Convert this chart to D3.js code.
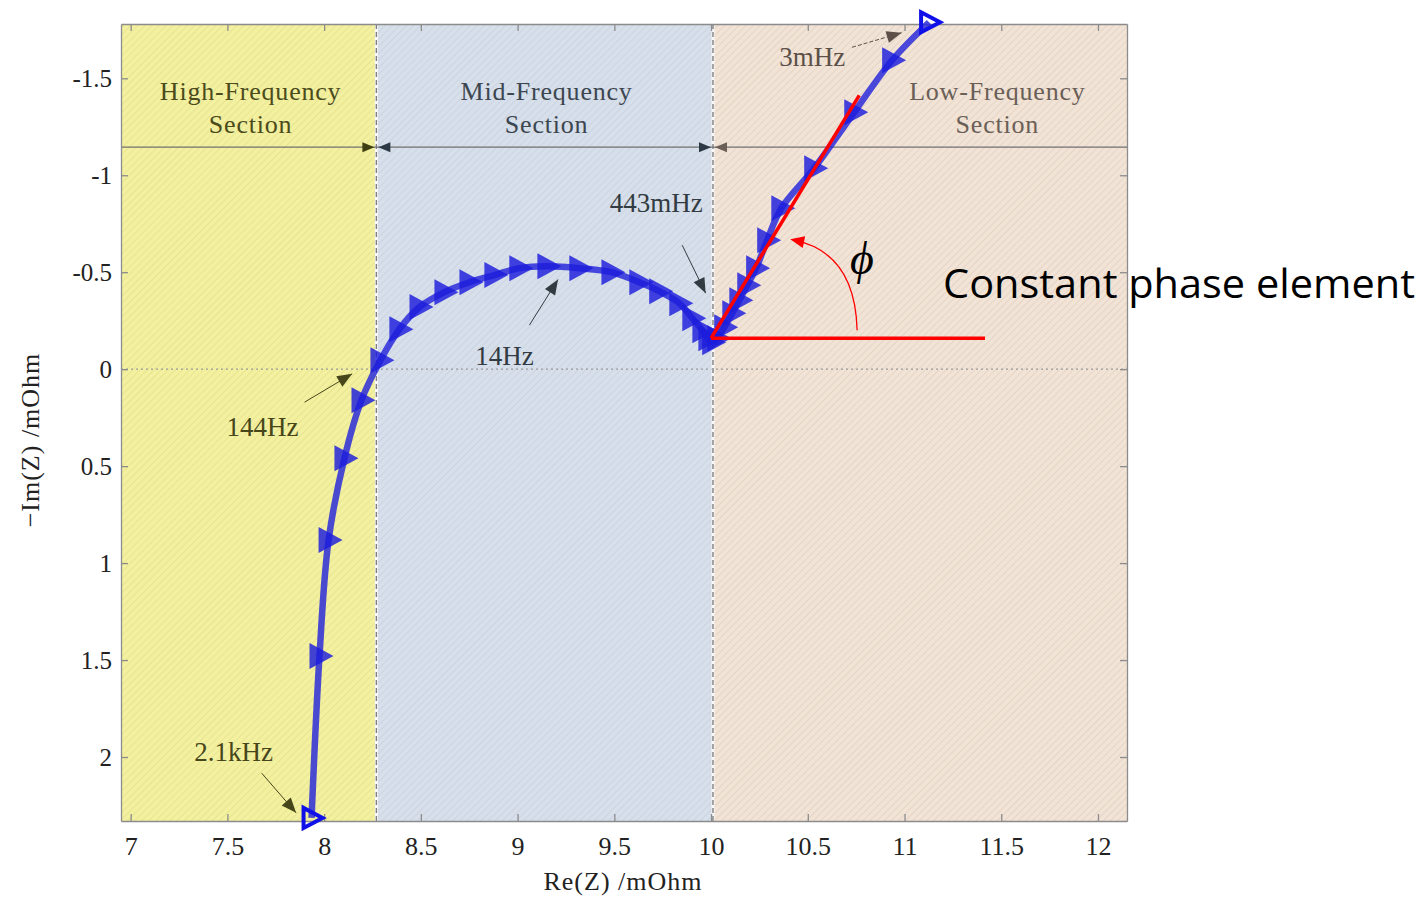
<!DOCTYPE html>
<html>
<head>
<meta charset="utf-8">
<script src="https://cdn.jsdelivr.net/npm/d3@7"></script>
<style>
body { margin: 0; background: #fff; }
.axis text { font-family: "Liberation Serif", serif; fill: #222; }
.axis path, .axis line { stroke: #8c8c8c; stroke-width: 1.3; }
.serif { font-family: "Liberation Serif", serif; }
</style>
</head>
<body>
<div id="chart"></div>
<script>
// impedance spectrum (Re(Z), plotted -Im(Z) axis value)
var reZ = [7.935, 7.976, 8.023, 8.105, 8.193, 8.291, 8.389, 8.493, 8.622, 8.751, 8.880, 9.009,
           9.154, 9.319, 9.485, 9.629, 9.732, 9.836, 9.903, 9.955, 9.986, 10.006, 10.032, 10.068,
           10.110, 10.146, 10.187, 10.233, 10.290, 10.363, 10.533, 10.740, 10.936, 11.127];
var imZ = [2.314, 1.479, 0.881, 0.459, 0.160, -0.046, -0.206, -0.320, -0.397, -0.448, -0.485, -0.521,
           -0.531, -0.521, -0.500, -0.448, -0.402, -0.340, -0.263, -0.201, -0.160, -0.139, -0.160, -0.216,
           -0.289, -0.356, -0.433, -0.521, -0.665, -0.830, -1.036, -1.325, -1.593, -1.789];

var xTicks = [7, 7.5, 8, 8.5, 9, 9.5, 10, 10.5, 11, 11.5, 12];
var yTicks = [-1.5, -1, -0.5, 0, 0.5, 1, 1.5, 2];

var sectionBounds = [6.95, 8.27, 10.01, 12.15];
var sectionNames = [["High-Frequency", "Section"], ["Mid-Frequency", "Section"], ["Low-Frequency", "Section"]];
var sectionLabelX = [7.62, 9.15, 11.48];
var sectionY = -1.145;

// frequency labels: text position, arrow start, arrow end (data units)
var freqLabels = ["3mHz", "443mHz", "14Hz", "144Hz", "2.1kHz"];
var freqText = [[10.523, -1.608], [9.717, -0.856], [8.932, -0.067], [7.682, 0.299], [7.532, 1.974]];
var freqFrom = [[10.729, -1.660], [9.851, -0.639], [9.061, -0.227], [7.899, 0.170], [7.677, 2.083]];
var freqTo = [[10.985, -1.735], [9.972, -0.392], [9.209, -0.462], [8.145, 0.024], [7.855, 2.288]];

// constant phase element construction
var cpeOrigin = [10.0, -0.16];
var cpeTangentEnd = [10.766, -1.412];
var cpeBaseEnd = [11.416, -0.16];
var cpeArc = [[10.755, -0.201], [10.745, -0.60], [10.43, -0.665]];

function init() {
    var w = 1424;
    var h = 898;
    var left = 121, right = 1127, top = 24, bottom = 821;

    var bg = ["#f3f0a0", "#d6dfea", "#f1e3d6"];
    var hatch = ["#e3df8a", "#c6d0de", "#e2d0c0"];
    var labelCol = ["#4b4b1c", "#3c4650", "#6a5f57"];

    var svg = d3.select("#chart").append("svg")
        .attr("width", w)
        .attr("height", h);

    var xScale = d3.scaleLinear().domain([6.95, 12.15]).range([left, right]);
    var yScale = d3.scaleLinear().domain([-1.78, 2.33]).range([top, bottom]);

    //hatched backgrounds
    var defs = svg.append("defs");
    bg.forEach(function(c, i) {
        var p = defs.append("pattern")
            .attr("id", "hatch" + i)
            .attr("patternUnits", "userSpaceOnUse")
            .attr("width", 5).attr("height", 5)
            .attr("patternTransform", "rotate(45)");
        p.append("rect").attr("width", 5).attr("height", 5).attr("fill", c);
        p.append("line").attr("x1", 0).attr("y1", 0).attr("x2", 0).attr("y2", 5)
            .attr("stroke", hatch[i]).attr("stroke-width", 1.4);
    });

    for (var i = 0; i < 3; i++) {
        svg.append("rect")
            .attr("x", xScale(sectionBounds[i]))
            .attr("y", top)
            .attr("width", xScale(sectionBounds[i + 1]) - xScale(sectionBounds[i]))
            .attr("height", bottom - top)
            .attr("fill", "url(#hatch" + i + ")");
    }

    //zero line
    svg.append("line")
        .attr("x1", left).attr("x2", right)
        .attr("y1", yScale(0)).attr("y2", yScale(0))
        .attr("stroke", "#9a9a9a").attr("stroke-width", 1.2)
        .attr("stroke-dasharray", "2,3");

    //section boundaries
    [sectionBounds[1], sectionBounds[2]].forEach(function(b) {
        svg.append("line")
            .attr("x1", xScale(b)).attr("x2", xScale(b))
            .attr("y1", top).attr("y2", bottom)
            .attr("stroke", "#f8f8f8").attr("stroke-width", 3);
        svg.append("line")
            .attr("x1", xScale(b)).attr("x2", xScale(b))
            .attr("y1", top).attr("y2", bottom)
            .attr("stroke", "#808080").attr("stroke-width", 1.4)
            .attr("stroke-dasharray", "5,3");
    });

    //section arrow line
    svg.append("line")
        .attr("x1", left).attr("x2", right)
        .attr("y1", yScale(sectionY)).attr("y2", yScale(sectionY))
        .attr("stroke", "#707070").attr("stroke-width", 1.2);

    function head(x, y, ang, len, wid, col) {
        var dx = Math.cos(ang), dy = Math.sin(ang);
        var bx = x - dx * len, by = y - dy * len;
        svg.append("path")
            .attr("d", "M" + x + "," + y +
                "L" + (bx - dy * wid) + "," + (by + dx * wid) +
                "L" + (bx + dy * wid) + "," + (by - dx * wid) + "Z")
            .attr("fill", col);
    }
    var sy = yScale(sectionY);
    head(xScale(sectionBounds[1]) - 2, sy, 0, 12, 5, "#3e3e12");
    head(xScale(sectionBounds[1]) + 2, sy, Math.PI, 12, 5, "#2c3844");
    head(xScale(sectionBounds[2]) - 2, sy, 0, 12, 5, "#2c3844");
    head(xScale(sectionBounds[2]) + 2, sy, Math.PI, 12, 5, "#6a6058");

    //section labels
    sectionNames.forEach(function(lines, i) {
        var cx = xScale(sectionLabelX[i]);
        var t = svg.append("text")
            .attr("class", "serif")
            .attr("text-anchor", "middle")
            .attr("font-size", 26)
            .attr("letter-spacing", 0.8)
            .attr("fill", labelCol[i]);
        t.append("tspan").attr("x", cx).attr("y", 100).text(lines[0]);
        t.append("tspan").attr("x", cx).attr("y", 133).text(lines[1]);
    });

    //axes
    var xAxis = d3.axisBottom(xScale).tickValues(xTicks).tickSize(-7).tickSizeOuter(0)
        .tickFormat(function(d) { return String(d); });
    var yAxis = d3.axisLeft(yScale).tickValues(yTicks).tickSize(-7).tickSizeOuter(0).tickPadding(9)
        .tickFormat(function(d) { return String(d); });

    var gx = svg.append("g").attr("class", "axis")
        .attr("transform", "translate(0," + bottom + ")").call(xAxis);
    gx.selectAll(".tick text").attr("y", 34).attr("dy", null).attr("font-size", 26);
    svg.append("g").attr("class", "axis")
        .attr("transform", "translate(0," + top + ")")
        .call(d3.axisTop(xScale).tickValues(xTicks).tickSize(-7).tickSizeOuter(0).tickFormat(""));
    var gy = svg.append("g").attr("class", "axis")
        .attr("transform", "translate(" + left + ",0)").call(yAxis);
    gy.selectAll(".tick text").attr("font-size", 25).attr("dy", "0.33em");
    svg.append("g").attr("class", "axis")
        .attr("transform", "translate(" + right + ",0)")
        .call(d3.axisRight(yScale).tickValues(yTicks).tickSize(-7).tickSizeOuter(0).tickFormat(""));

    //axis titles
    svg.append("text").attr("class", "serif")
        .attr("x", 623).attr("y", 890)
        .attr("text-anchor", "middle").attr("font-size", 26).attr("letter-spacing", 1)
        .attr("fill", "#222")
        .text("Re(Z) /mOhm");
    svg.append("text").attr("class", "serif")
        .attr("transform", "translate(39,440) rotate(-90)")
        .attr("text-anchor", "middle").attr("font-size", 26).attr("letter-spacing", 1)
        .attr("fill", "#222")
        .text("\u2212Im(Z) /mOhm");

    //frequency annotations
    var annCol = ["#5c5048", "#333b42", "#333b42", "#46461a", "#46461a"];
    freqLabels.forEach(function(lab, i) {
        svg.append("text").attr("class", "serif")
            .attr("x", xScale(freqText[i][0])).attr("y", yScale(freqText[i][1]) + 9)
            .attr("text-anchor", "middle").attr("font-size", 27)
            .attr("fill", annCol[i])
            .text(lab);
        var x0 = xScale(freqFrom[i][0]), y0 = yScale(freqFrom[i][1]);
        var x1 = xScale(freqTo[i][0]), y1 = yScale(freqTo[i][1]);
        svg.append("line")
            .attr("x1", x0).attr("y1", y0).attr("x2", x1).attr("y2", y1)
            .attr("stroke", annCol[i]).attr("stroke-width", 1)
            .attr("stroke-dasharray", i === 0 ? "4,2" : null);
        head(x1, y1, Math.atan2(y1 - y0, x1 - x0), 15, 6, annCol[i]);
    });

    //impedance curve
    var pts = reZ.map(function(r, i) { return [r, imZ[i]]; });
    var line = d3.line()
        .x(function(d) { return xScale(d[0]); })
        .y(function(d) { return yScale(d[1]); })
        .curve(d3.curveCatmullRom.alpha(0.5));

    svg.append("path")
        .datum(pts)
        .attr("d", line)
        .attr("fill", "none")
        .attr("stroke", "#2424dc")
        .attr("stroke-opacity", 0.82)
        .attr("stroke-width", 6.5);

    var tri = "M-10,-13L-10,13L14,0Z";
    svg.selectAll(".mk")
        .data(pts.slice(1, pts.length - 1))
        .enter().append("path")
        .attr("class", "mk")
        .attr("d", tri)
        .attr("transform", function(d) { return "translate(" + xScale(d[0]) + "," + yScale(d[1]) + ")"; })
        .attr("fill", "#1c1cdc")
        .attr("fill-opacity", 0.82);

    [pts[0], pts[pts.length - 1]].forEach(function(d) {
        svg.append("path")
            .attr("d", "M-8,-10L-8,10L11,0Z")
            .attr("transform", "translate(" + xScale(d[0]) + "," + yScale(d[1]) + ")")
            .attr("fill", "none")
            .attr("stroke", "#1010e8")
            .attr("stroke-width", 4);
    });

    //constant phase element construction
    var ox = xScale(cpeOrigin[0]), oy = yScale(cpeOrigin[1]);
    svg.append("line")
        .attr("x1", ox).attr("y1", oy)
        .attr("x2", xScale(cpeTangentEnd[0])).attr("y2", yScale(cpeTangentEnd[1]))
        .attr("stroke", "#ff0000").attr("stroke-width", 3.5);
    svg.append("line")
        .attr("x1", ox).attr("y1", oy)
        .attr("x2", xScale(cpeBaseEnd[0])).attr("y2", yScale(cpeBaseEnd[1]))
        .attr("stroke", "#ff0000").attr("stroke-width", 3.5);

    var a = cpeArc.map(function(d) { return [xScale(d[0]), yScale(d[1])]; });
    svg.append("path")
        .attr("d", "M" + a[0] + "Q" + a[1] + " " + a[2])
        .attr("fill", "none")
        .attr("stroke", "#ff0000").attr("stroke-width", 1.3);
    head(a[2][0] - 4, a[2][1] - 1, Math.atan2(a[2][1] - a[1][1], a[2][0] - a[1][0]), 14, 6, "#ff0000");

    svg.append("text").attr("class", "serif")
        .attr("x", 862).attr("y", 274)
        .attr("text-anchor", "middle")
        .attr("font-size", 46).attr("font-style", "italic").attr("fill", "#000")
        .text("\u03D5");

    svg.append("text")
        .attr("x", 943).attr("y", 298)
        .attr("font-family", "'Open Sans', 'Noto Sans', sans-serif")
        .attr("font-size", 40)
        .attr("textLength", 472)
        .attr("lengthAdjust", "spacingAndGlyphs")
        .attr("fill", "#000")
        .text("Constant phase element");
}
window.onload = init;
</script>
</body>
</html>
